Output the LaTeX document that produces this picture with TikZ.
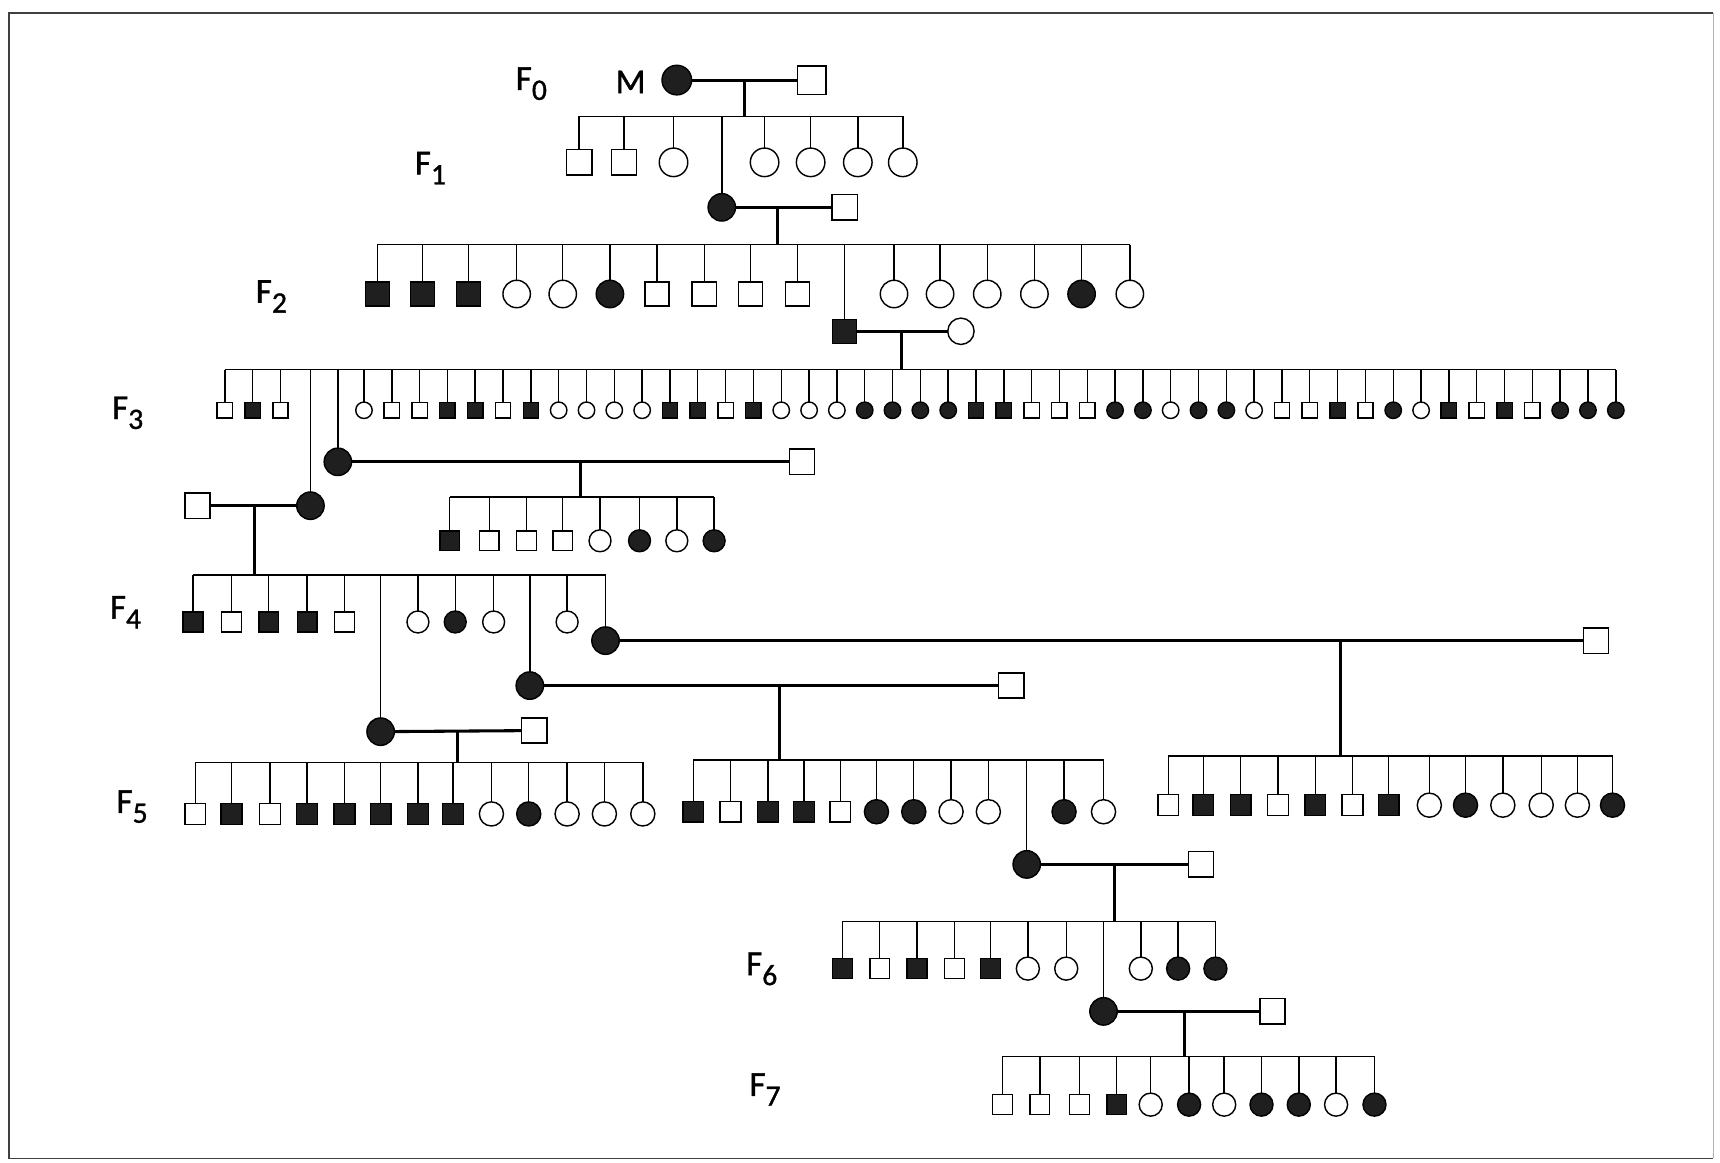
\documentclass[tikz,border=0pt]{standalone}
\usepackage{fontspec}
\setmainfont{Liberation Sans}
\newfontfamily\labfont[FakeBold=1.2]{Carlito}
\newcommand\gensub[1]{\raisebox{-9pt}{\fontsize{27pt}{27pt}\selectfont #1}}
\newcommand\pedkids[4]{%
  \foreach \x/\t [count=\i] in {#4} {
    \node[\t] (#1\i) at (\x,#2) {};
    \draw[kin] (#1\i.north) -- (#1\i.north |- #3);
  }%
}
\def\symsq{23pt}\def\symci{25pt}
\tikzset{
  kin/.style={line width=1.3pt},
  mar/.style={line width=2.8pt},
  sym/.style={draw, line width=1.3pt, inner sep=0pt, outer sep=0pt},
  mU/.style={sym, rectangle, fill=white, minimum size=\symsq},
  mA/.style={sym, rectangle, fill=black!88, minimum size=\symsq},
  fU/.style={sym, circle, fill=white, minimum size=\symci},
  fA/.style={sym, circle, fill=black!88, minimum size=\symci},
  lab/.style={font=\labfont\fontsize{32pt}{32pt}\selectfont, inner sep=0pt, anchor=base west},
}
\begin{document}
\begin{tikzpicture}[x=1pt,y=-1pt]
\useasboundingbox (0,0) rectangle (1568,1060);
\draw[line width=1.5pt, black!75] (1562,12) -- (8,12) -- (8,1056) -- (1562,1056);
\draw[line width=1.2pt, black!30] (1562,12) -- (1562,1056);

% labels
\node[lab] (l0) at (470,82) {F\gensub{0}};
\node[lab] (lm) at (561,85) {M};
\node[lab] (l1) at (378,159) {F\gensub{1}};
\node[lab] (l2) at (233,276) {F\gensub{2}};
\node[lab] (l3) at (102,382) {F\gensub{3}};
\node[lab] (l4) at (100,564) {F\gensub{4}};
\node[lab] (l5) at (106,741) {F\gensub{5}};
\node[lab] (l6) at (680,889) {F\gensub{6}};
\node[lab] (l7) at (683,999) {F\gensub{7}};

% ---------- F0
\def\symsq{26pt}\def\symci{27pt}
\node[fA] (m0) at (617,73) {};
\node[mU] (s0) at (740,73) {};
\draw[mar] (m0) -- (s0);
\coordinate (d0) at (679,73);
\coordinate (sib1) at (0,106);
\draw[mar] (d0) -- (d0 |- sib1);
\coordinate (sib1L) at (528,106); \coordinate (sib1R) at (823,106);
\draw[kin] (sib1L) -- (sib1R);

% ---------- F1
\def\symsq{23pt}\def\symci{26pt}
\pedkids{ca}{148}{sib1}{528/mU,569/mU,614/fU,697/fU,739/fU,782/fU,823/fU}
\def\symsq{23pt}\def\symci{25pt}
\node[fA] (p1) at (658,189) {};
\draw[kin] (p1.north) -- (p1.north |- sib1);
\node[mU] (s1) at (770,189) {};
\draw[mar] (p1) -- (s1);
\coordinate (d1) at (709,189);
\coordinate (sib2) at (0,223);
\draw[mar] (d1) -- (d1 |- sib2);
\coordinate (sib2L) at (344,223); \coordinate (sib2R) at (1030,223);
\draw[kin] (sib2L) -- (sib2R);

% ---------- F2
\def\symsq{22pt}\def\symci{25pt}
\pedkids{cb}{268}{sib2}{344/mA,385/mA,427/mA,471/fU,513/fU,556/fA,599/mU,642/mU,684/mU,727/mU,815/fU,857/fU,900/fU,943/fU,986/fA,1030/fU}
\node[mA] (p2) at (770,302) {};
\draw[kin] (p2.north) -- (p2.north |- sib2);
\def\symci{24pt}
\node[fU] (s2) at (876,302) {};
\draw[mar] (p2) -- (s2);
\coordinate (d2) at (822,302);
\coordinate (sib3) at (0,337);
\draw[mar] (d2) -- (d2 |- sib3);
\coordinate (sib3L) at (205,337); \coordinate (sib3R) at (1473,337);
\draw[kin] (sib3L) -- (sib3R);

% ---------- F3
\def\symsq{14pt}\def\symci{15pt}
\pedkids{cc}{374}{sib3}{205/mU,230.4/mA,255.7/mU,331.8/fU,357.2/mU,382.5/mU,407.9/mA,433.2/mA,458.6/mU,484/mA,509.3/fU,534.7/fU,560/fU,585.4/fU,610.8/mA,636.1/mA,661.5/mU,686.8/mA,712.2/fU,737.6/fU,762.9/fU,788.3/fA,813.6/fA,839/fA,864.4/fA,889.7/mA,915.1/mA,940.4/mU,965.8/mU,991.2/mU,1016.5/fA,1041.9/fA,1067.2/fU,1092.6/fA,1118/fA,1143.3/fU,1168.7/mU,1194/mU,1219.4/mA,1244.8/mU,1270.1/fA,1295.5/fU,1320.8/mA,1346.2/mU,1371.6/mA,1396.9/mU,1422.3/fA,1447.6/fA,1473/fA}

% F3 proband B (upper)
\def\symsq{23pt}\def\symci{25pt}
\node[fA] (pB) at (308,421) {};
\draw[kin] (pB.north) -- (pB.north |- sib3);
\node[mU] (sB) at (731,421) {};
\draw[mar] (pB) -- (sB);
\coordinate (dB) at (529,421);
\coordinate (sib3b) at (0,453);
\draw[mar] (dB) -- (dB |- sib3b);
\coordinate (sib3bL) at (410,453); \coordinate (sib3bR) at (651,453);
\draw[kin] (sib3bL) -- (sib3bR);
\def\symsq{18pt}\def\symci{20pt}
\pedkids{cd}{493}{sib3b}{410/mA,446/mU,480/mU,513/mU,547/fU,583/fA,617/fU,651/fA}

% F3 proband A (lower)
\def\symsq{23pt}\def\symci{25pt}
\node[fA] (pA) at (283,461) {};
\draw[kin] (pA.north) -- (pA.north |- sib3);
\node[mU] (sA) at (180,461) {};
\draw[mar] (pA) -- (sA);
\coordinate (dA) at (232,461);
\coordinate (sib4) at (0,524);
\draw[mar] (dA) -- (dA |- sib4);
\coordinate (sib4L) at (176,524); \coordinate (sib4R) at (552,524);
\draw[kin] (sib4L) -- (sib4R);

% ---------- F4
\def\symsq{18pt}\def\symci{20pt}
\pedkids{ce}{567}{sib4}{176/mA,211/mU,245/mA,280/mA,314/mU,381/fU,415/fA,450/fU,517/fU}

\def\symsq{23pt}\def\symci{25pt}
% E
\node[fA] (pE) at (552,584) {};
\draw[kin] (pE.north) -- (pE.north |- sib4);
\node[mU] (sE) at (1455,584) {};
\draw[mar] (pE) -- (sE);
\coordinate (dE) at (1222,584);
\coordinate (sib5c) at (0,689);
\draw[mar] (dE) -- (dE |- sib5c);
\coordinate (sib5cL) at (1065,689); \coordinate (sib5cR) at (1470,689);
\draw[kin] (sib5cL) -- (sib5cR);
% D
\node[fA] (pD) at (483,625) {};
\draw[kin] (pD.north) -- (pD.north |- sib4);
\node[mU] (sD) at (922,625) {};
\draw[mar] (pD) -- (sD);
\coordinate (dD) at (711,625);
\coordinate (sib5b) at (0,693);
\draw[mar] (dD) -- (dD |- sib5b);
\coordinate (sib5bL) at (632,693); \coordinate (sib5bR) at (1006,693);
\draw[kin] (sib5bL) -- (sib5bR);
% C
\node[fA] (pC) at (347,667) {};
\draw[kin] (pC.north) -- (pC.north |- sib4);
\node[mU] (sC) at (487,666) {};
\draw[mar] (pC) -- (sC);
\coordinate (dC) at (417,666);
\coordinate (sib5a) at (0,695);
\draw[mar] (dC) -- (dC |- sib5a);
\coordinate (sib5aL) at (178,695); \coordinate (sib5aR) at (586,695);
\draw[kin] (sib5aL) -- (sib5aR);

% ---------- F5
\def\symsq{19pt}\def\symci{22pt}
\pedkids{cf}{742}{sib5a}{178/mU,211/mA,246/mU,280/mA,314/mA,347/mA,381/mA,413/mA,448/fU,482/fA,517/fU,551/fU,586/fU}
\pedkids{cg}{740}{sib5b}{632/mA,666/mU,700/mA,733/mA,766/mU,799/fA,833/fA,867/fU,901/fU,970/fA,1006/fU}
\pedkids{ch}{734}{sib5c}{1065/mU,1097/mA,1131/mA,1165/mU,1199/mA,1233/mU,1266/mA,1303/fU,1336/fA,1370/fU,1405/fU,1438/fU,1470/fA}

\def\symsq{23pt}\def\symci{25pt}
\node[fA] (pF) at (936,788) {};
\draw[kin] (pF.north) -- (pF.north |- sib5b);
\node[mU] (sF) at (1095,788) {};
\draw[mar] (pF) -- (sF);
\coordinate (dF) at (1016,788);
\coordinate (sib6) at (0,840);
\draw[mar] (dF) -- (dF |- sib6);
\coordinate (sib6L) at (768,840); \coordinate (sib6R) at (1108,840);
\draw[kin] (sib6L) -- (sib6R);

% ---------- F6
\def\symsq{18pt}\def\symci{21pt}
\pedkids{ci}{883}{sib6}{768/mA,802/mU,836/mA,870/mU,903/mA,937/fU,972/fU,1040/fU,1074/fA,1108/fA}

\def\symsq{23pt}\def\symci{25pt}
\node[fA] (pG) at (1006,922) {};
\draw[kin] (pG.north) -- (pG.north |- sib6);
\node[mU] (sG) at (1160,922) {};
\draw[mar] (pG) -- (sG);
\coordinate (dG) at (1080,922);
\coordinate (sib7) at (0,963);
\draw[mar] (dG) -- (dG |- sib7);
\coordinate (sib7L) at (914,963); \coordinate (sib7R) at (1253,963);
\draw[kin] (sib7L) -- (sib7R);

% ---------- F7
\def\symsq{18pt}\def\symci{21pt}
\pedkids{cj}{1007}{sib7}{914/mU,948/mU,984/mU,1018/mA,1049/fU,1084/fA,1116/fU,1150/fA,1184/fA,1218/fU,1253/fA}
\end{tikzpicture}
\end{document}
